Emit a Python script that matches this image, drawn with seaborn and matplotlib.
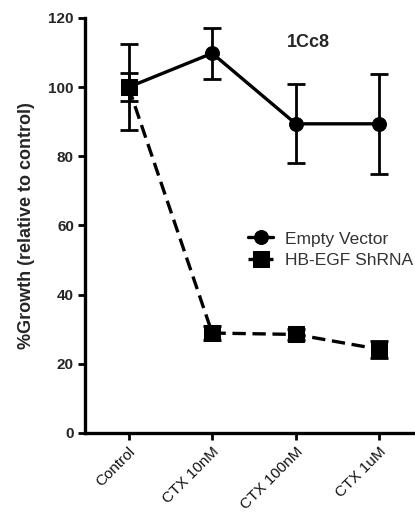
import numpy as np
import pandas as pd
import matplotlib
matplotlib.use('Agg')
import matplotlib.pyplot as plt
import seaborn as sns

# --- data ---
conditions = ['Control', 'CTX 10nM', 'CTX 100nM', 'CTX 1uM']
empty_vector = [100.0, 109.8, 89.4, 89.4]
empty_vector_err = [12.5, 7.3, 11.4, 14.5]
hbegf_shrna = [100.0, 28.9, 28.5, 24.2]
hbegf_shrna_err = [4.0, 2.0, 1.5, 2.5]
yticks = [0, 20, 40, 60, 80, 100, 120]

sns.set_style('ticks')
plt.rcParams['font.family'] = ['Liberation Sans', 'DejaVu Sans']

df = pd.DataFrame({
    'pos': list(range(len(conditions))) * 2,
    'growth': empty_vector + hbegf_shrna,
    'group': ['Empty Vector'] * 4 + ['HB-EGF ShRNA'] * 4,
})

fig = plt.figure(figsize=(4.15, 5.14), dpi=100)
ax = fig.add_axes([0.205, 0.1576, 0.81, 0.8074])

sns.lineplot(data=df, x='pos', y='growth', hue='group', style='group',
             palette={'Empty Vector': 'black', 'HB-EGF ShRNA': 'black'},
             markers={'Empty Vector': 'o', 'HB-EGF ShRNA': 's'},
             dashes={'Empty Vector': '', 'HB-EGF ShRNA': (4, 2)},
             markersize=10, linewidth=2.4, markeredgecolor='black', ax=ax, zorder=3)
for ln in ax.get_lines():
    if ln.get_marker() == 's':
        ln.set_markersize(11)

x = np.arange(len(conditions))
ax.errorbar(x, empty_vector, yerr=empty_vector_err, fmt='none', ecolor='black',
            elinewidth=2, capsize=6.5, capthick=2, zorder=2)
ax.errorbar(x, hbegf_shrna, yerr=hbegf_shrna_err, fmt='none', ecolor='black',
            elinewidth=2, capsize=6.5, capthick=2, zorder=2)

ax.set_xlim(-0.52, 3.5)
ax.set_ylim(0, 120)
ax.set_yticks(yticks)
ax.set_yticklabels([str(v) for v in yticks], fontsize=11, fontweight='bold')
ax.set_xticks(x)
ax.set_xticklabels(conditions, rotation=45, ha='right', rotation_mode='anchor',
                   fontsize=11, color='#111111')
ax.set_xlabel('')
ax.set_ylabel('%Growth (relative to control)', fontsize=13, fontweight='bold', labelpad=10)
ax.tick_params(axis='both', width=2, length=5, color='black', pad=3)
for side in ['left', 'bottom']:
    ax.spines[side].set_linewidth(2.4)
    ax.spines[side].set_color('black')
ax.spines['top'].set_visible(False)
ax.spines['right'].set_visible(False)
ax.spines['bottom'].set_clip_on(False)

ax.text(2.15, 113, '1Cc8', fontsize=13, fontweight='bold', ha='center', va='center')

leg = ax.legend(loc='upper left', bbox_to_anchor=(0.45, 0.515), frameon=False,
                fontsize=12.5, handlelength=1.4, handletextpad=0.7, labelspacing=0.35,
                borderpad=0.2)
for t in leg.get_texts():
    t.set_color('#333333')

fig.savefig('out.png', dpi=100)
